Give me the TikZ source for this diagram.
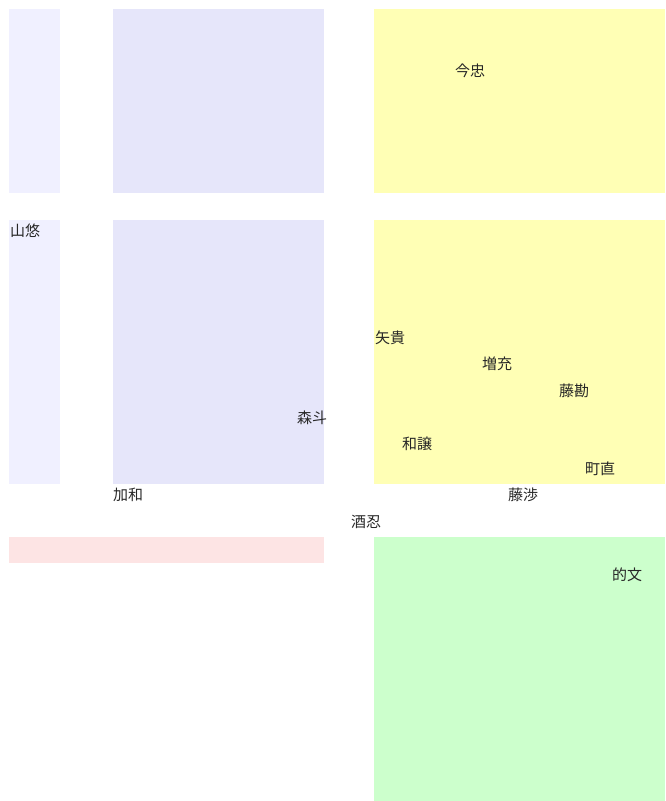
\documentclass[tikz,border=0pt]{standalone}
\usepackage{fontspec}
\newfontfamily\cjk{Noto Sans CJK JP}
\definecolor{laneA}{HTML}{F0F0FF}
\definecolor{laneB}{HTML}{E6E6FA}
\definecolor{laneY}{HTML}{FFFFB5}
\definecolor{laneP}{HTML}{FDE4E4}
\definecolor{laneG}{HTML}{CCFFCC}
\begin{document}
\begin{tikzpicture}[x=1pt,y=-1pt,
  lbl/.style={font=\cjk\fontsize{15}{17}\selectfont, text=black!85, inner sep=0pt}]
\useasboundingbox (0,0) rectangle (665,801);
% areas
\fill[laneA] (9,9) rectangle (60,193);
\fill[laneA] (9,220) rectangle (60,484);
\fill[laneB] (113,9) rectangle (324,193);
\fill[laneB] (113,220) rectangle (324,484);
\fill[laneY] (374,9) rectangle (665,193);
\fill[laneY] (374,220) rectangle (665,484);
\fill[laneP] (9,537) rectangle (324,563);
\fill[laneG] (374,537) rectangle (665,801);
% labels
\node[lbl] (n1) at (470,71) {今忠};
\node[lbl] (n2) at (25,231) {山悠};
\node[lbl] (n3) at (390,338) {矢貴};
\node[lbl] (n4) at (497,364) {増充};
\node[lbl] (n5) at (574,391) {藤勘};
\node[lbl] (n6) at (312,418) {森斗};
\node[lbl] (n7) at (417,444) {和譲};
\node[lbl] (n8) at (600,469) {町直};
\node[lbl] (n9) at (128,495) {加和};
\node[lbl] (n10) at (523,495) {藤渉};
\node[lbl] (n11) at (366,522) {酒忍};
\node[lbl] (n12) at (627,575) {的文};
\end{tikzpicture}
\end{document}
